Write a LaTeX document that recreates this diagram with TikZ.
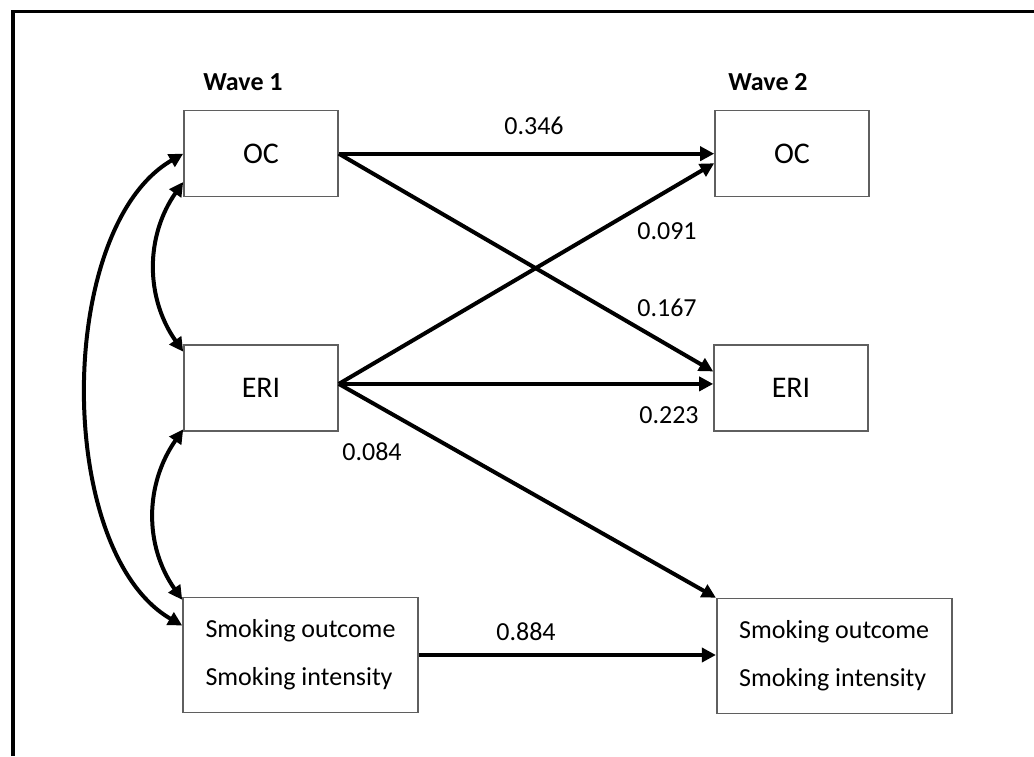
\documentclass[tikz,border=0pt]{standalone}
\usepackage{fontspec}
\setmainfont{Carlito}
\usetikzlibrary{arrows.meta}
\definecolor{boxgray}{RGB}{95,95,95}

\begin{document}
\begin{tikzpicture}[x=1pt,y=1pt,
    var/.style={draw=boxgray, line width=1.6pt, minimum width=154pt, minimum height=86pt, inner sep=0pt, font=\fontsize{30}{36}\selectfont},
    smk/.style={draw=boxgray, line width=1.6pt, minimum width=235pt, minimum height=115pt, inner sep=0pt, align=left, font=\fontsize{26}{48}\selectfont},
    wave/.style={font=\fontsize{26}{30}\selectfont\bfseries},
    coef/.style={font=\fontsize{26}{30}\selectfont}]
    \useasboundingbox (0,0) rectangle (1034,756);
    \draw[line width=3.8pt] (13,0) -- (13,744.5) -- (1034,744.5);

    \node[wave] (7) at (243,674) {Wave 1};
    \node[wave] (8) at (768,674) {Wave 2};

    \node[var] (1) at (261,602.3) {OC};
    \node[var] (2) at (261,368) {ERI};
    \node[smk] (3) at (300.5,101) {Smoking outcome\\Smoking intensity};

    \node[var] (4) at (792,602.3) {OC};
    \node[var] (5) at (791,368) {ERI};
    \node[smk] (6) at (834.2,100) {Smoking outcome\\Smoking intensity};

    \node[coef] (9) at (534,630) {0.346};
    \node[coef] (10) at (667,525) {0.091};
    \node[coef] (11) at (667,448) {0.167};
    \node[coef] (12) at (669,341) {0.223};
    \node[coef] (13) at (372,304) {0.084};
    \node[coef] (14) at (526,124) {0.884};

    \path[-{Triangle[length=14pt,width=14pt]}, black, line width=4pt]
    (1.east) edge (4.west)
    (1.east) edge (5.168)
    (2.3) edge (4.187)
    (2.3) edge (5.177)
    (2.3) edge (6.north west)
    (3.east) edge (3.east -| 6.west);

    \path[{Triangle[length=14pt,width=14pt]}-{Triangle[length=14pt,width=14pt]}, black, line width=4pt]
    (1.200) edge [out=235, in=125] (2.155)
    (2.208) edge [out=235, in=125] (3.155)
    (1.west) edge [out=210, in=150, looseness=0.8] (3.166);
\end{tikzpicture}
\end{document}
